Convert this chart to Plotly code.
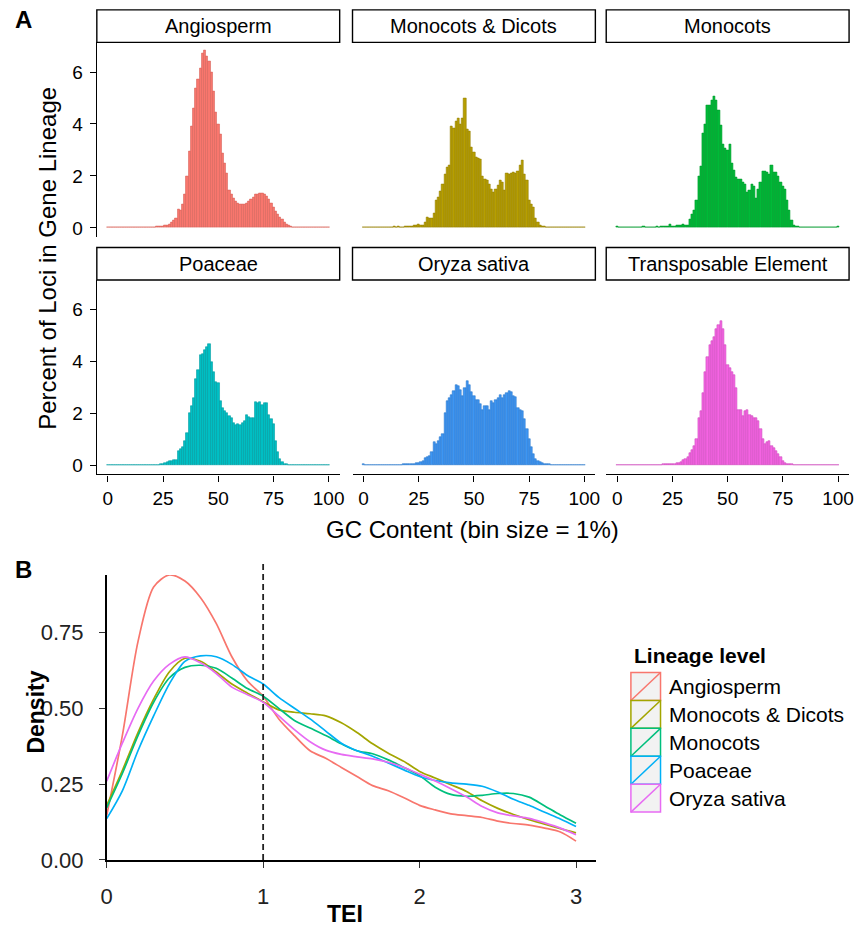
import plotly.graph_objects as go

W, H = 860, 938
FONT = "Liberation Sans, Arial, Helvetica, sans-serif"

# ---------------- Panel A data: GC content histograms (bin size 1%) ----------------
gc_bins = list(range(0, 101))
facet_names = ["Angiosperm", "Monocots & Dicots", "Monocots",
               "Poaceae", "Oryza sativa", "Transposable Element"]

angiosperm_pct = [
    0.02, 0.02, 0.02, 0.02, 0.02, 0.02, 0.02, 0.02, 0.02, 0.02,
    0.02, 0.02, 0.02, 0.02, 0.02, 0.02, 0.02, 0.02, 0.02, 0.02,
    0.03, 0.03, 0.04, 0.05, 0.06, 0.07, 0.08, 0.09, 0.12, 0.20,
    0.30, 0.36, 0.70, 0.67, 0.90, 1.30, 2.00, 2.95, 3.90, 4.60,
    5.38, 5.70, 6.14, 6.71, 6.85, 6.60, 6.40, 6.00, 5.25, 4.43,
    4.00, 3.60, 2.85, 2.50, 2.09, 1.46, 1.30, 1.14, 1.01, 0.95,
    0.92, 0.89, 0.90, 0.95, 1.00, 1.08, 1.18, 1.27, 1.30, 1.32,
    1.33, 1.28, 1.20, 1.08, 0.95, 0.80, 0.63, 0.50, 0.40, 0.32,
    0.20, 0.13, 0.08, 0.05, 0.03, 0.02, 0.02, 0.02, 0.02, 0.02,
    0.02, 0.02, 0.02, 0.02, 0.02, 0.02, 0.02, 0.02, 0.02, 0.02, 0.02]

mono_dicots_pct = [
    0.02, 0.02, 0.02, 0.02, 0.02, 0.02, 0.02, 0.02, 0.02, 0.02,
    0.02, 0.02, 0.02, 0.02, 0.05, 0.02, 0.06, 0.03, 0.03, 0.05,
    0.04, 0.06, 0.07, 0.08, 0.10, 0.12, 0.08, 0.10, 0.20, 0.42,
    0.36, 0.38, 0.54, 1.05, 1.18, 1.40, 1.69, 2.07, 2.32, 2.40,
    3.90, 3.84, 4.10, 4.20, 4.00, 4.20, 4.98, 3.78, 3.72, 3.08,
    2.89, 2.70, 2.66, 2.63, 2.00, 1.87, 1.81, 1.69, 1.49, 1.37,
    1.49, 1.65, 1.81, 1.75, 1.43, 2.09, 2.07, 2.10, 2.13, 2.09,
    2.19, 2.40, 2.60, 2.07, 1.81, 1.05, 0.90, 0.77, 0.36, 0.20,
    0.10, 0.05, 0.04, 0.03, 0.02, 0.02, 0.02, 0.02, 0.02, 0.02,
    0.02, 0.02, 0.02, 0.02, 0.02, 0.02, 0.02, 0.02, 0.02, 0.02, 0.02]

monocots_pct = [
    0.05, 0.02, 0.02, 0.02, 0.02, 0.02, 0.02, 0.02, 0.02, 0.02,
    0.02, 0.02, 0.05, 0.02, 0.02, 0.02, 0.02, 0.03, 0.05, 0.03,
    0.06, 0.04, 0.07, 0.05, 0.13, 0.06, 0.07, 0.08, 0.10, 0.08,
    0.12, 0.10, 0.10, 0.32, 0.50, 0.67, 1.05, 2.00, 2.38, 3.65,
    4.00, 4.72, 4.72, 4.90, 5.05, 4.90, 4.53, 3.96, 3.20, 3.07,
    3.00, 3.20, 2.50, 2.20, 1.94, 1.87, 1.87, 1.75, 1.69, 1.37,
    1.43, 1.69, 1.60, 1.12, 1.49, 1.75, 2.19, 2.16, 2.12, 2.07,
    2.41, 2.12, 2.12, 2.00, 1.75, 1.60, 1.49, 1.05, 0.67, 0.29,
    0.10, 0.06, 0.04, 0.03, 0.02, 0.02, 0.02, 0.02, 0.02, 0.02,
    0.02, 0.02, 0.02, 0.02, 0.02, 0.02, 0.02, 0.02, 0.02, 0.02, 0.05]

poaceae_pct = [
    0.02, 0.02, 0.02, 0.02, 0.02, 0.02, 0.02, 0.02, 0.02, 0.02,
    0.02, 0.02, 0.02, 0.02, 0.02, 0.02, 0.02, 0.02, 0.02, 0.02,
    0.02, 0.02, 0.03, 0.03, 0.05, 0.06, 0.08, 0.12, 0.16, 0.18,
    0.20, 0.21, 0.55, 0.63, 0.70, 0.95, 1.23, 2.03, 2.30, 2.60,
    3.33, 3.67, 4.24, 4.30, 4.45, 4.56, 4.68, 4.00, 3.60, 3.22,
    3.16, 2.47, 2.20, 2.08, 2.01, 1.90, 1.82, 1.63, 1.57, 1.60,
    1.57, 1.63, 1.70, 1.95, 1.85, 1.82, 1.82, 2.43, 2.39, 2.43,
    2.33, 2.39, 2.39, 1.95, 1.80, 1.60, 0.94, 0.50, 0.25, 0.13,
    0.06, 0.04, 0.03, 0.02, 0.02, 0.02, 0.02, 0.02, 0.02, 0.02,
    0.02, 0.02, 0.02, 0.02, 0.02, 0.02, 0.02, 0.02, 0.02, 0.02, 0.02]

oryza_pct = [
    0.07, 0.02, 0.02, 0.02, 0.02, 0.02, 0.02, 0.02, 0.02, 0.02,
    0.02, 0.02, 0.02, 0.02, 0.02, 0.03, 0.03, 0.03, 0.04, 0.04,
    0.05, 0.05, 0.06, 0.07, 0.08, 0.10, 0.13, 0.18, 0.28, 0.33,
    0.38, 0.51, 0.89, 0.82, 0.95, 1.08, 1.20, 2.03, 2.47, 2.60,
    2.70, 2.85, 3.08, 3.04, 2.91, 2.66, 2.97, 3.25, 3.10, 2.82,
    2.66, 2.53, 2.53, 2.35, 2.15, 2.28, 2.28, 2.15, 2.47, 2.41,
    2.53, 2.60, 2.70, 2.60, 2.72, 2.79, 2.85, 2.82, 2.66, 2.62,
    2.21, 2.15, 2.11, 1.77, 1.39, 1.01, 0.70, 0.44, 0.25, 0.18,
    0.13, 0.09, 0.06, 0.05, 0.04, 0.03, 0.02, 0.02, 0.02, 0.02,
    0.02, 0.02, 0.02, 0.02, 0.02, 0.02, 0.02, 0.02, 0.02, 0.02, 0.02]

te_pct = [
    0.02, 0.02, 0.02, 0.02, 0.02, 0.02, 0.02, 0.02, 0.02, 0.02,
    0.02, 0.02, 0.02, 0.02, 0.02, 0.02, 0.02, 0.02, 0.02, 0.02,
    0.03, 0.04, 0.04, 0.05, 0.05, 0.06, 0.07, 0.09, 0.11, 0.13,
    0.20, 0.25, 0.34, 0.47, 0.60, 0.76, 1.01, 1.84, 2.11, 2.79,
    3.61, 4.18, 4.62, 4.80, 4.94, 5.26, 5.39, 5.58, 5.26, 4.62,
    3.86, 3.74, 3.60, 3.48, 2.98, 2.15, 2.15, 1.90, 2.09, 2.15,
    1.96, 1.90, 1.84, 1.84, 1.71, 1.39, 1.01, 0.82, 0.89, 0.95,
    0.76, 0.66, 0.57, 0.44, 0.32, 0.19, 0.09, 0.07, 0.05, 0.04,
    0.03, 0.02, 0.02, 0.02, 0.02, 0.02, 0.02, 0.02, 0.02, 0.02,
    0.02, 0.02, 0.02, 0.02, 0.02, 0.02, 0.02, 0.02, 0.02, 0.02, 0.02]

gc_ticks = [0, 25, 50, 75, 100]
pct_ticks = [0, 2, 4, 6]

# ---------------- Panel B data: TEI density ----------------
tei_grid = [0.0, 0.1, 0.2, 0.3, 0.4, 0.5, 0.6, 0.7, 0.8, 0.9, 1.0,
            1.1, 1.2, 1.3, 1.4, 1.5, 1.6, 1.7, 1.8, 1.9, 2.0,
            2.1, 2.2, 2.3, 2.4, 2.5, 2.6, 2.7, 2.8, 2.9, 3.0]
lineage_names = ["Angiosperm", "Monocots & Dicots", "Monocots", "Poaceae", "Oryza sativa"]
dens_angiosperm = [0.146, 0.41, 0.72, 0.90, 0.94, 0.92, 0.865, 0.78, 0.67, 0.59, 0.54,
                   0.465, 0.41, 0.36, 0.335, 0.305, 0.275, 0.245, 0.228, 0.205, 0.18,
                   0.165, 0.152, 0.146, 0.14, 0.128, 0.12, 0.115, 0.105, 0.092, 0.062]
dens_mono_dicots = [0.18, 0.295, 0.42, 0.53, 0.62, 0.665, 0.655, 0.62, 0.58, 0.55, 0.522,
                    0.495, 0.487, 0.482, 0.475, 0.452, 0.42, 0.383, 0.352, 0.325, 0.292,
                    0.27, 0.248, 0.226, 0.195, 0.17, 0.15, 0.133, 0.118, 0.103, 0.089]
dens_monocots = [0.172, 0.285, 0.41, 0.52, 0.60, 0.635, 0.642, 0.632, 0.60, 0.565, 0.54,
                 0.50, 0.46, 0.435, 0.41, 0.383, 0.36, 0.35, 0.33, 0.305, 0.278,
                 0.24, 0.216, 0.21, 0.213, 0.219, 0.219, 0.207, 0.178, 0.148, 0.121]
dens_poaceae = [0.136, 0.228, 0.36, 0.475, 0.58, 0.655, 0.673, 0.67, 0.645, 0.608, 0.58,
                0.536, 0.50, 0.465, 0.425, 0.385, 0.36, 0.342, 0.32, 0.297, 0.275,
                0.262, 0.254, 0.25, 0.243, 0.224, 0.20, 0.18, 0.157, 0.135, 0.11]
dens_oryza = [0.26, 0.385, 0.50, 0.59, 0.645, 0.67, 0.65, 0.615, 0.57, 0.545, 0.52,
              0.475, 0.43, 0.39, 0.362, 0.348, 0.34, 0.333, 0.322, 0.305, 0.283,
              0.26, 0.235, 0.208, 0.176, 0.155, 0.145, 0.137, 0.122, 0.105, 0.083]
tei_ticks = [0, 1, 2, 3]
dens_ticks = [0, 0.25, 0.5, 0.75]
dens_ticktext = ["0.00", "0.25", "0.50", "0.75"]
tei_threshold = 1

# ---------------- styling ----------------
facet_fill = ["#F8766D", "#B79F00", "#00BA38", "#00BFC4", "#3D96F3", "#F564E3"]
facet_edge = ["#D9645C", "#957F00", "#009A2E", "#009EA2", "#2E7ACC", "#CF4FBF"]
line_colors = ["#F8766D", "#A3A500", "#00BF7D", "#00B0F6", "#E76BF3"]

def px(x):
    return x / W

def py(y):
    return 1 - y / H

fig = go.Figure()

col_x = [(92, 338), (351, 597), (608, 854)]
row_y = [(43, 240), (284, 481)]
strip_y = [(10, 43), (251, 284)]

facet_values = [angiosperm_pct, mono_dicots_pct, monocots_pct,
                poaceae_pct, oryza_pct, te_pct]

layout_axes = {}
shapes = []
annotations = []

for i, vals in enumerate(facet_values):
    r, c = divmod(i, 3)
    k = i + 1
    xa = "x" if k == 1 else f"x{k}"
    ya = "y" if k == 1 else f"y{k}"
    fig.add_trace(go.Bar(
        x=gc_bins, y=vals, width=1.0, xaxis=xa, yaxis=ya,
        marker=dict(color=facet_fill[i], line=dict(color=facet_edge[i], width=0.6)),
        showlegend=False, hoverinfo="x+y"))
    x0, x1 = col_x[c]
    ytop, ybot = row_y[r]
    bottom = (r == 1)
    left = (c == 0)
    layout_axes["xaxis" if k == 1 else f"xaxis{k}"] = dict(
        domain=[px(x0), px(x1)], anchor=ya, range=[-5, 105],
        tickvals=gc_ticks, showticklabels=bottom, ticks="outside" if bottom else "",
        ticklen=6, tickwidth=1.3, tickcolor="black",
        showline=bottom, linecolor="black", linewidth=1.4,
        showgrid=False, zeroline=False,
        tickfont=dict(family=FONT, size=19, color="black"),
        ticklabelstandoff=1)
    layout_axes["yaxis" if k == 1 else f"yaxis{k}"] = dict(
        domain=[py(ybot), py(ytop)], anchor=xa, range=[-0.34, 7.14],
        tickvals=pct_ticks, showticklabels=left, ticks="outside" if left else "",
        ticklen=6, tickwidth=1.3, tickcolor="black",
        showline=left, linecolor="black", linewidth=1.4,
        showgrid=False, zeroline=False,
        tickfont=dict(family=FONT, size=19, color="black"),
        ticklabelstandoff=3)
    # strip
    s0, s1 = strip_y[r]
    shapes.append(dict(type="rect", xref="paper", yref="paper",
                       x0=px(x0), x1=px(x1), y0=py(s1), y1=py(s0),
                       line=dict(color="black", width=1.4), fillcolor="white", layer="below"))
    annotations.append(dict(text=facet_names[i], xref="paper", yref="paper",
                            x=px((x0 + x1) / 2), y=py((s0 + s1) / 2),
                            xanchor="center", yanchor="middle", showarrow=False,
                            font=dict(family=FONT, size=20, color="black")))

# ---------------- Panel B ----------------
dens_series = [dens_angiosperm, dens_mono_dicots, dens_monocots, dens_poaceae, dens_oryza]
for name, ys, col in zip(lineage_names, dens_series, line_colors):
    fig.add_trace(go.Scatter(
        x=tei_grid, y=ys, mode="lines", name=name, xaxis="x7", yaxis="y7",
        line=dict(color=col, width=1.7, shape="spline", smoothing=0.8),
        cliponaxis=False, showlegend=False))

layout_axes["xaxis7"] = dict(
    domain=[px(102), px(598)], anchor="y7", range=[0, 3.13],
    tickvals=tei_ticks, ticks="outside", ticklen=6, tickwidth=1.3, tickcolor="#333333",
    showline=True, linecolor="black", linewidth=1.5, showgrid=False, zeroline=False,
    tickfont=dict(family=FONT, size=22, color="#222222"), ticklabelstandoff=10)
layout_axes["yaxis7"] = dict(
    domain=[py(872), py(583)], anchor="x7", range=[0, 0.94],
    tickvals=dens_ticks, ticktext=dens_ticktext, ticks="outside", ticklen=6,
    tickwidth=1.3, tickcolor="#333333",
    showline=True, linecolor="black", linewidth=1.5, showgrid=False, zeroline=False,
    tickfont=dict(family=FONT, size=22, color="#222222"), ticklabelstandoff=11)

shapes.append(dict(type="line", xref="x7", yref="paper", x0=tei_threshold, x1=tei_threshold,
                   y0=py(872), y1=py(572), line=dict(color="#222222", width=1.8, dash="6px,4px")))

# manual legend (ggplot-style keys)
key_x0, key_x1 = 633, 663
key_top, key_h = 682, 28.3
for j, (name, col) in enumerate(zip(lineage_names, line_colors)):
    t = key_top + j * key_h
    b = t + key_h
    shapes.append(dict(type="rect", xref="paper", yref="paper",
                       x0=px(key_x0), x1=px(key_x1), y0=py(b), y1=py(t),
                       line=dict(color=col, width=1.5), fillcolor="#F2F2F2"))
    shapes.append(dict(type="line", xref="paper", yref="paper",
                       x0=px(key_x0), x1=px(key_x1), y0=py(b), y1=py(t),
                       line=dict(color=col, width=1.5)))
    annotations.append(dict(text=name, xref="paper", yref="paper",
                            x=px(670), y=py((t + b) / 2), xanchor="left", yanchor="middle",
                            showarrow=False, font=dict(family=FONT, size=21, color="black")))
annotations.append(dict(text="<b>Lineage level</b>", xref="paper", yref="paper",
                        x=px(634), y=py(665), xanchor="left", yanchor="middle",
                        showarrow=False, font=dict(family=FONT, size=21, color="black")))

# titles and panel letters
annotations += [
    dict(text="<b>A</b>", x=px(18), y=py(20)),
    dict(text="<b>B</b>", x=px(18), y=py(578)),
]
for a in annotations[-2:]:
    a.update(xref="paper", yref="paper", xanchor="center", yanchor="middle",
             showarrow=False, font=dict(family=FONT, size=24, color="black"))

annotations += [
    dict(text="GC Content (bin size = 1%)", xref="paper", yref="paper",
         x=px(473), y=py(537), xanchor="center", yanchor="middle", showarrow=False,
         font=dict(family=FONT, size=24, color="black")),
    dict(text="Percent of Loci in Gene Lineage", xref="paper", yref="paper",
         x=px(42), y=py(262), xanchor="center", yanchor="middle", showarrow=False,
         textangle=-90, font=dict(family=FONT, size=24, color="black")),
    dict(text="<b>Density</b>", xref="paper", yref="paper",
         x=px(30), y=py(722), xanchor="center", yanchor="middle", showarrow=False,
         textangle=-90, font=dict(family=FONT, size=23, color="black")),
    dict(text="<b>TEI</b>", xref="paper", yref="paper",
         x=px(343), y=py(927), xanchor="center", yanchor="middle", showarrow=False,
         font=dict(family=FONT, size=23, color="black")),
]

fig.update_layout(
    width=W, height=H, margin=dict(l=0, r=0, t=0, b=0),
    paper_bgcolor="white", plot_bgcolor="white",
    bargap=0, showlegend=False,
    font=dict(family=FONT, color="black"),
    shapes=shapes, annotations=annotations,
    **layout_axes)

fig.write_html(
    "out.html",
    config={"displayModeBar": False},
    post_script="document.body.style.margin='0';document.body.style.padding='0';"
                "document.documentElement.style.overflow='hidden';")
